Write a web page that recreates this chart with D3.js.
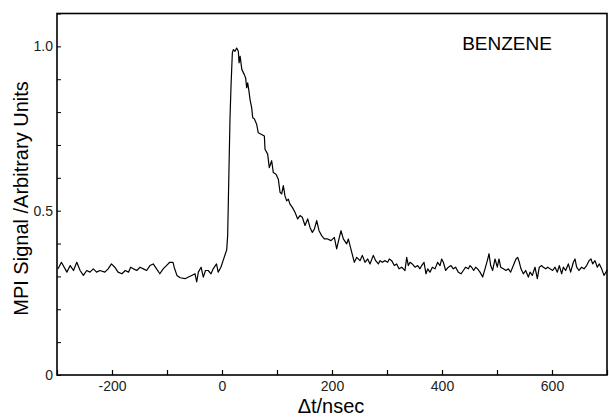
<!DOCTYPE html>
<html>
<head>
<meta charset="utf-8">
<script src="https://cdn.jsdelivr.net/npm/d3@7"></script>
<style>
  html, body { margin: 0; padding: 0; background: #fff; }
  svg { display: block; font-family: "Liberation Sans", Arial, sans-serif; }
</style>
</head>
<body>
<svg id="chart" width="609" height="418"></svg>
<script>
// ---- data ----
const times = [
  -298,-292,-282,-276,-270,-264,-258,-252,-246,-240,-234,-228,-222,-213,-207,-201,-195,-189,-182,-176,
  -170,-166,-161,-155,-149,-143,-137,-131,-125,-119,-113,-107,-101,-95,-89,-87,-82,-76,-67,-61,
  -55,-49,-46,-43,-38,-34,-30,-25,-20,-16,-10,-7,-2,2,6,8.5,10.3,11.5,12.7,14.5,
  16.4,18.8,20.6,23.6,26.7,29.7,31,33,36,40.6,43,44.8,46.7,49,51,54,55.8,58.7,63,66,
  72,77,78.2,83,86,90.3,93.3,98.2,102.4,105.5,108.5,111.5,114.5,117.6,120.6,123.6,127.9,132.7,137.6,141.8,
  146,150.9,155.8,160,164.2,167.9,172.2,176.4,181.2,186,192.1,198.2,204.2,208.5,212.7,216.4,220.6,226.7,229.7,235.8,
  240.6,245,250.9,255.1,260,264.9,269.1,275.1,279.4,284.2,287.3,291.5,296.4,301.2,304.2,308.5,313.3,317.6,321.8,326.7,
  329.7,332.7,335.8,338.8,341.8,346,350.9,355.8,360,363,367.3,370.9,374,378.2,382.4,387.3,392.1,396.4,399.4,402.4,
  406.7,411.5,416.4,420.6,424.8,429.7,434.5,438.8,443,447.9,450.9,453.9,457.6,461.2,464.8,469.1,473.9,478.2,482.4,485.5,
  488.5,492.1,496.4,500.6,503.6,506.7,511.5,516.4,520.6,524.8,529.7,534.5,537.6,540.6,543.6,547.9,552.1,557,560,564.2,
  569.1,573.3,576.9,581.2,584.2,588.5,592.1,596.4,601.2,605.5,609.7,613.3,617.6,620.6,624.8,629.7,633.9,638.8,641.8,644.8,
  649.1,653.9,658.2,663,667.3,670.9,673.9,678.2,682.4,686,690.3,694.5,698.2,700
];
const signal = [
  0.323,0.343,0.313,0.333,0.318,0.343,0.318,0.303,0.318,0.313,0.323,0.313,0.318,0.313,0.323,0.338,0.328,0.313,0.308,0.318,
  0.313,0.328,0.323,0.318,0.328,0.323,0.318,0.333,0.338,0.323,0.308,0.323,0.333,0.343,0.343,0.328,0.303,0.296,0.293,0.298,
  0.303,0.308,0.283,0.313,0.328,0.298,0.318,0.318,0.308,0.323,0.338,0.313,0.328,0.348,0.368,0.380,0.424,0.525,0.626,0.778,
  0.879,0.980,0.990,0.985,0.995,0.985,0.950,0.970,0.930,0.914,0.904,0.874,0.889,0.864,0.838,0.813,0.783,0.780,0.763,0.737,
  0.732,0.727,0.687,0.672,0.631,0.652,0.616,0.611,0.596,0.556,0.551,0.576,0.545,0.530,0.535,0.520,0.510,0.495,0.475,0.485,
  0.480,0.455,0.475,0.449,0.434,0.444,0.470,0.439,0.424,0.414,0.414,0.409,0.419,0.384,0.414,0.439,0.414,0.399,0.414,0.374,
  0.343,0.358,0.348,0.364,0.343,0.353,0.338,0.364,0.348,0.338,0.348,0.343,0.348,0.343,0.353,0.348,0.333,0.338,0.323,0.328,
  0.323,0.318,0.358,0.333,0.343,0.338,0.328,0.333,0.323,0.333,0.343,0.308,0.323,0.313,0.328,0.323,0.343,0.333,0.353,0.343,
  0.318,0.328,0.333,0.323,0.328,0.313,0.308,0.318,0.328,0.323,0.333,0.328,0.318,0.328,0.323,0.313,0.298,0.323,0.348,0.369,
  0.333,0.318,0.353,0.328,0.353,0.328,0.323,0.318,0.323,0.313,0.333,0.353,0.358,0.343,0.323,0.308,0.318,0.298,0.313,0.303,
  0.328,0.293,0.328,0.333,0.328,0.323,0.328,0.323,0.318,0.328,0.313,0.333,0.308,0.328,0.318,0.338,0.313,0.343,0.353,0.328,
  0.318,0.328,0.323,0.333,0.348,0.353,0.338,0.348,0.328,0.338,0.323,0.303,0.313,0.320
];
const xTickValues = [-300,-200,-100,0,100,200,300,400,500,600,700];
const xTickLabels = ["", "-200", "", "0", "", "200", "", "400", "", "600", ""];
const yTickValues = [0,0.1,0.2,0.3,0.4,0.5,0.6,0.7,0.8,0.9,1.0,1.1];
const yTickLabels = ["0","","","","","0.5","","","","","1.0",""];
const xTitle = "Δt/nsec";
const yTitle = "MPI Signal /Arbitrary Units";
const label = "BENZENE";

// ---- layout ----
const W = 609, H = 418;
const margin = { top: 13.5, right: 2, bottom: 43, left: 57 };
const svg = d3.select("#chart");

const x = d3.scaleLinear().domain([-300, 700]).range([margin.left, W - margin.right]);
const y = d3.scaleLinear().domain([0, 1.1]).range([H - margin.bottom, margin.top]);

// x axis (ticks pointing inward)
const xAxis = d3.axisBottom(x)
  .tickValues(xTickValues)
  .tickFormat((d, i) => xTickLabels[i])
  .tickSize(-5)
  .tickSizeOuter(0)
  .tickPadding(6);
const gx = svg.append("g")
  .attr("transform", `translate(0,${y(0)})`)
  .call(xAxis);
gx.select(".domain").remove();
gx.selectAll(".tick line").attr("stroke", "#000").attr("stroke-width", 1.2);
gx.selectAll(".tick text").attr("font-size", 14).attr("fill", "#222")
  .attr("font-family", "Liberation Sans, Arial, sans-serif");

// y axis (ticks pointing inward)
const yAxis = d3.axisLeft(y)
  .tickValues(yTickValues)
  .tickFormat((d, i) => yTickLabels[i])
  .tickSize(-4)
  .tickSizeOuter(0)
  .tickPadding(4);
const gy = svg.append("g")
  .attr("transform", `translate(${x(-300)},0)`)
  .call(yAxis);
gy.select(".domain").remove();
gy.selectAll(".tick line").attr("stroke", "#000").attr("stroke-width", 1);
gy.selectAll(".tick text").attr("font-size", 14).attr("fill", "#222")
  .attr("font-family", "Liberation Sans, Arial, sans-serif");

// frame
svg.append("rect")
  .attr("x", x(-300)).attr("y", y(1.1))
  .attr("width", x(700) - x(-300)).attr("height", y(0) - y(1.1))
  .attr("fill", "none").attr("stroke", "#000").attr("stroke-width", 1.6);

// data line
const pts = times.map((t, i) => [t, signal[i]]);
const line = d3.line().x(d => x(d[0])).y(d => y(d[1]));
svg.append("path")
  .datum(pts)
  .attr("d", line)
  .attr("fill", "none")
  .attr("stroke", "#000")
  .attr("stroke-width", 1.2)
  .attr("stroke-linejoin", "round");

// titles
svg.append("text")
  .attr("x", 331).attr("y", 413)
  .attr("text-anchor", "middle")
  .attr("font-size", 20).attr("fill", "#000")
  .text(xTitle);

svg.append("text")
  .attr("transform", `translate(28,198.5) rotate(-90)`)
  .attr("text-anchor", "middle")
  .attr("font-size", 20).attr("fill", "#000")
  .text(yTitle);

svg.append("text")
  .attr("x", 507).attr("y", 50)
  .attr("text-anchor", "middle")
  .attr("font-size", 19).attr("fill", "#000")
  .text(label);
</script>
</body>
</html>
